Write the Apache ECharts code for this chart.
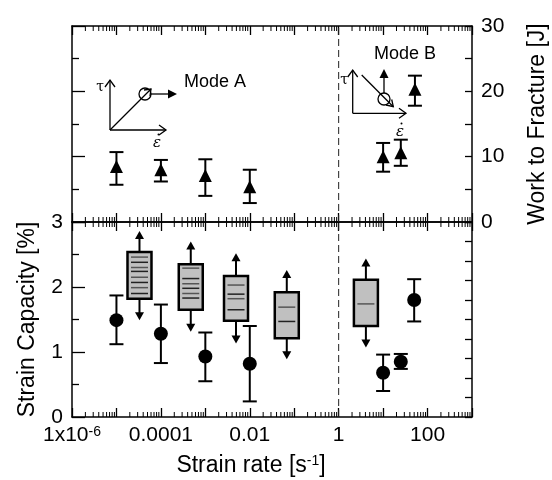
<!DOCTYPE html>
<html><head><meta charset="utf-8">
<script src="https://cdn.jsdelivr.net/npm/echarts@6/dist/echarts.min.js"></script>
<style>html,body{margin:0;padding:0;background:#fff}#c{width:552px;height:480px}</style>
</head><body><div id="c"></div>
<script>
// ---- data ----
const workX    = [1e-5, 1e-4, 1e-3, 1e-2, 10, 25, 52];
const workMean = [8.5, 8.0, 7.1, 5.4, 10.0, 10.6, 20.3];
const workHigh = [10.7, 9.5, 9.6, 8.0, 12.1, 12.6, 22.4];
const workLow  = [5.7, 6.2, 4.0, 2.9, 7.7, 8.6, 17.8];

const strainX    = [1e-5, 1e-4, 1e-3, 1e-2, 10, 25, 50];
const strainMean = [1.49, 1.28, 0.93, 0.82, 0.68, 0.85, 1.80];
const strainHigh = [1.87, 1.73, 1.30, 1.40, 0.96, 0.97, 2.12];
const strainLow  = [1.12, 0.83, 0.55, 0.24, 0.40, 0.74, 1.47];

const boxX        = [3.3e-5, 4.7e-4, 4.9e-3, 0.068, 4.1];
const boxTop      = [2.54, 2.35, 2.17, 1.92, 2.11];
const boxBottom   = [1.82, 1.65, 1.48, 1.21, 1.40];
const arrowTop    = [2.86, 2.70, 2.52, 2.26, 2.44];
const arrowBottom = [1.49, 1.31, 1.13, 0.89, 1.07];
const boxLines = [
  [2.46, 2.38, 2.30, 2.24, 2.15, 2.07, 1.99, 1.90],
  [2.29, 2.13, 2.05, 1.98, 1.90, 1.83],
  [2.03, 1.89, 1.82, 1.65],
  [1.69, 1.47],
  [1.74]
];

const modeDivider = [1];
const xLabels = {'-6': '{a|1x10}{b|-6}', '-4': '0.0001', '-2': '0.01', '0': '1', '2': '100'};
const workTicks = [0, 10, 20, 30];

// ---- helpers ----
const FONT = 'Liberation Sans, Arial, sans-serif';
const minorVals = [];
for (let e = -6; e < 3; e++) for (let m = 2; m <= 9; m++) minorVals.push([m * Math.pow(10, e)]);

function minorTickSeries(xi, yi, yMin, yMax) {
  return {
    type: 'custom', xAxisIndex: xi, yAxisIndex: yi, silent: true, z: 5,
    data: minorVals,
    renderItem: function (params, api) {
      const v = api.value(0);
      const b = api.coord([v, yMin]), t = api.coord([v, yMax]);
      const L = 5;
      return {type: 'group', children: [
        {type: 'line', shape: {x1: b[0], y1: b[1], x2: b[0], y2: b[1] - L}, style: {stroke: '#000', lineWidth: 1}},
        {type: 'line', shape: {x1: t[0], y1: t[1], x2: t[0], y2: t[1] + L}, style: {stroke: '#000', lineWidth: 1}}
      ]};
    }
  };
}

function dividerSeries(xi, yi, yMin, yMax) {
  return {
    type: 'custom', xAxisIndex: xi, yAxisIndex: yi, silent: true, z: 2,
    data: modeDivider.map(v => [v]),
    renderItem: function (params, api) {
      const v = api.value(0);
      const b = api.coord([v, yMin]), t = api.coord([v, yMax]);
      return {type: 'line', shape: {x1: b[0], y1: b[1], x2: t[0], y2: t[1]},
        style: {stroke: '#222', lineWidth: 1, lineDash: [7, 4]}};
    }
  };
}

function errRender(params, api) {
  const x = api.value(0), lo = api.value(1), hi = api.value(2);
  const a = api.coord([x, hi]), b = api.coord([x, lo]);
  const hw = 7, st = {stroke: '#000', lineWidth: 2};
  return {type: 'group', children: [
    {type: 'line', shape: {x1: a[0], y1: a[1], x2: b[0], y2: b[1]}, style: st},
    {type: 'line', shape: {x1: a[0] - hw, y1: a[1], x2: a[0] + hw, y2: a[1]}, style: st},
    {type: 'line', shape: {x1: b[0] - hw, y1: b[1], x2: b[0] + hw, y2: b[1]}, style: st}
  ]};
}

function boxRender(params, api) {
  const i = params.dataIndex;
  const x = api.value(0);
  const top = api.coord([x, api.value(2)]), bot = api.coord([x, api.value(1)]);
  const aT = api.coord([x, api.value(4)]), aB = api.coord([x, api.value(3)]);
  const hw = 12, cx = top[0];
  const ch = [];
  const st = {stroke: '#000', lineWidth: 2};
  ch.push({type: 'line', shape: {x1: cx, y1: top[1], x2: cx, y2: aT[1] + 7}, style: st});
  ch.push({type: 'polygon', shape: {points: [[cx - 4.5, aT[1] + 8], [cx, aT[1]], [cx + 4.5, aT[1] + 8]]}, style: {fill: '#000'}});
  ch.push({type: 'line', shape: {x1: cx, y1: bot[1], x2: cx, y2: aB[1] - 7}, style: st});
  ch.push({type: 'polygon', shape: {points: [[cx - 4.5, aB[1] - 8], [cx, aB[1]], [cx + 4.5, aB[1] - 8]]}, style: {fill: '#000'}});
  ch.push({type: 'rect', shape: {x: cx - hw, y: top[1], width: 2 * hw, height: bot[1] - top[1]},
    style: {fill: '#c0c0c0', stroke: '#000', lineWidth: 2.5}});
  boxLines[i].forEach(function (v, k) {
    const p = api.coord([x, v]);
    ch.push({type: 'line', shape: {x1: cx - hw + 3.5, y1: p[1], x2: cx + hw - 3.5, y2: p[1]},
      style: {stroke: k % 2 ? '#222' : '#555', lineWidth: 1.5}});
  });
  return {type: 'group', children: ch};
}

const axLine = {show: true, onZero: false, lineStyle: {color: '#000', width: 1.5}};
function xAx(gi, pos, showLabel, extra) {
  return Object.assign({
    type: 'log', gridIndex: gi, position: pos, min: 1e-6, max: 1e3, logBase: 10, splitNumber: 9,
    axisLine: axLine, axisTick: {show: true, inside: true, length: 9, lineStyle: {color: '#000', width: 1.3}},
    axisLabel: {show: showLabel}, splitLine: {show: false}
  }, extra || {});
}

// ---- inset diagrams ----
const gst = {stroke: '#000', lineWidth: 1.3, fill: null};
function L(x1, y1, x2, y2) { return {type: 'line', shape: {x1, y1, x2, y2}, style: gst, z: 20}; }
function P(pts) { return {type: 'polyline', shape: {points: pts}, style: gst, z: 20}; }
function F(pts) { return {type: 'polygon', shape: {points: pts}, style: {fill: '#000'}, z: 20}; }
function T(x, y, text, font, extra) { return {type: 'text', x, y, z: 20, style: Object.assign({text, font, fill: '#000'}, extra || {})}; }
function D(x, y) { return {type: 'circle', shape: {cx: x, cy: y, r: 1}, style: {fill: '#000'}, z: 20}; }

const graphics = [
  // Mode A
  L(110, 130, 110, 80), P([[105, 87], [110, 80], [115, 87]]),
  L(110, 130, 166, 130), P([[159, 125], [166, 130], [159, 135]]),
  L(110, 130, 151, 89), P([[144, 90], [151, 89], [150, 96]]),
  {type: 'circle', shape: {cx: 145, cy: 94, r: 6}, style: gst, z: 20},
  L(151, 94, 170, 94), F([[168, 89.5], [177, 94], [168, 98.5]]),
  T(100, 87, 'τ', '14px DejaVu Serif', {align: 'center', verticalAlign: 'middle'}),
  T(157, 143, 'ε', 'italic 15px DejaVu Serif', {align: 'center', verticalAlign: 'middle'}),
  D(158.5, 134.5),
  T(184, 73, 'Mode A', '18px ' + FONT),
  // Mode B
  L(352.7, 113.3, 352.7, 70), P([[347.7, 77], [352.7, 70], [357.7, 77]]),
  L(352.7, 113.3, 406, 113.3), P([[399, 108.3], [406, 113.3], [399, 118.3]]),
  L(361.7, 75, 393.3, 106.7), P([[386, 105], [393.3, 106.7], [391.7, 99.5]]),
  {type: 'circle', shape: {cx: 384, cy: 99, r: 6}, style: gst, z: 20},
  L(384, 93, 384, 76), F([[379.5, 78], [384, 69], [388.5, 78]]),
  T(344, 80, 'τ', '14px DejaVu Serif', {align: 'center', verticalAlign: 'middle'}),
  T(400, 132, 'ε', 'italic 15px DejaVu Serif', {align: 'center', verticalAlign: 'middle'}),
  D(401.5, 123.5),
  T(374, 45, 'Mode B', '18px ' + FONT)
];

const chart = echarts.init(document.getElementById('c'), null, {renderer: 'canvas'});
chart.setOption({
  animation: false,
  backgroundColor: '#fff',
  textStyle: {fontFamily: FONT, color: '#000'},
  grid: [
    {left: 72, right: 80, top: 26, height: 196, containLabel: false, outerBoundsMode: 'none'},
    {left: 72, right: 80, top: 222, height: 195, containLabel: false, outerBoundsMode: 'none'}
  ],
  xAxis: [
    xAx(0, 'top', false),
    xAx(0, 'bottom', false),
    xAx(1, 'top', false),
    xAx(1, 'bottom', true, {
      axisLabel: {
        show: true, margin: 8, fontSize: 21, color: '#000', fontFamily: FONT,
        showMinLabel: true, showMaxLabel: true,
        formatter: function (v) {
          const e = Math.round(Math.log10(v));
          return xLabels[String(e)] || '';
        },
        rich: {a: {fontSize: 21, fontFamily: FONT, color: '#000'}, b: {fontSize: 14, fontFamily: FONT, color: '#000', verticalAlign: 'top'}}
      },
      name: '{a|Strain rate [s}{b|-1}{a|]}',
      nameLocation: 'middle', nameGap: 37,
      nameTextStyle: {padding: [0, 42, 0, 0], rich: {a: {fontSize: 23, fontFamily: FONT, color: '#000'}, b: {fontSize: 14, fontFamily: FONT, color: '#000', verticalAlign: 'top'}}}
    })
  ],
  yAxis: [
    {type: 'value', gridIndex: 0, position: 'left', min: 0, max: 30, interval: 10,
      axisLine: axLine, axisTick: {show: true, inside: true, length: 13, lineStyle: {color: '#000', width: 1.3}},
      minorTick: {show: true, splitNumber: 2, length: 7, lineStyle: {color: '#000', width: 1.3}},
      axisLabel: {show: false}, splitLine: {show: false}, minorSplitLine: {show: false}},
    {type: 'value', gridIndex: 0, position: 'right', min: 0, max: 30, interval: 5,
      axisLine: axLine, axisTick: {show: true, inside: true, length: 7, lineStyle: {color: '#000', width: 1.3}},
      axisLabel: {show: true, fontSize: 21, color: '#000', margin: 9,
        formatter: function (v) { return workTicks.indexOf(v) >= 0 ? String(v) : ''; }},
      splitLine: {show: false},
      name: 'Work to Fracture [J]', nameLocation: 'middle', nameGap: 54, nameRotate: 90,
      nameTextStyle: {fontSize: 23, color: '#000'}},
    {type: 'value', gridIndex: 1, position: 'left', min: 0, max: 3, interval: 1,
      axisLine: axLine, axisTick: {show: true, inside: true, length: 13, lineStyle: {color: '#000', width: 1.3}},
      minorTick: {show: true, splitNumber: 2, length: 7, lineStyle: {color: '#000', width: 1.3}},
      axisLabel: {show: true, fontSize: 21, color: '#000', margin: 9},
      splitLine: {show: false}, minorSplitLine: {show: false},
      name: 'Strain Capacity [%]', nameLocation: 'middle', nameGap: 33,
      nameTextStyle: {fontSize: 23, color: '#000'}},
    {type: 'value', gridIndex: 1, position: 'right', min: 0, max: 10, interval: 1,
      axisLine: axLine, axisTick: {show: true, inside: true, length: 7, lineStyle: {color: '#000', width: 1.3}},
      axisLabel: {show: false}, splitLine: {show: false}}
  ],
  series: [
    minorTickSeries(0, 0, 0, 30),
    minorTickSeries(3, 2, 0, 3),
    dividerSeries(0, 0, 0, 30),
    dividerSeries(3, 2, 0, 3),
    {type: 'custom', xAxisIndex: 0, yAxisIndex: 0, renderItem: errRender, z: 3,
      encode: {x: 0, y: [1, 2]},
      data: workX.map((x, i) => [x, workLow[i], workHigh[i]])},
    {type: 'scatter', xAxisIndex: 0, yAxisIndex: 0, symbol: 'triangle', symbolSize: 13, z: 4,
      itemStyle: {color: '#000', opacity: 1}, data: workX.map((x, i) => [x, workMean[i]])},
    {type: 'custom', xAxisIndex: 3, yAxisIndex: 2, renderItem: boxRender, z: 3,
      encode: {x: 0, y: [1, 2, 3, 4]},
      data: boxX.map((x, i) => [x, boxBottom[i], boxTop[i], arrowBottom[i], arrowTop[i]])},
    {type: 'custom', xAxisIndex: 3, yAxisIndex: 2, renderItem: errRender, z: 3,
      encode: {x: 0, y: [1, 2]},
      data: strainX.map((x, i) => [x, strainLow[i], strainHigh[i]])},
    {type: 'scatter', xAxisIndex: 3, yAxisIndex: 2, symbol: 'circle', symbolSize: 14, z: 4,
      itemStyle: {color: '#000', opacity: 1}, data: strainX.map((x, i) => [x, strainMean[i]])}
  ],
  graphic: graphics
});
</script>
</body></html>
